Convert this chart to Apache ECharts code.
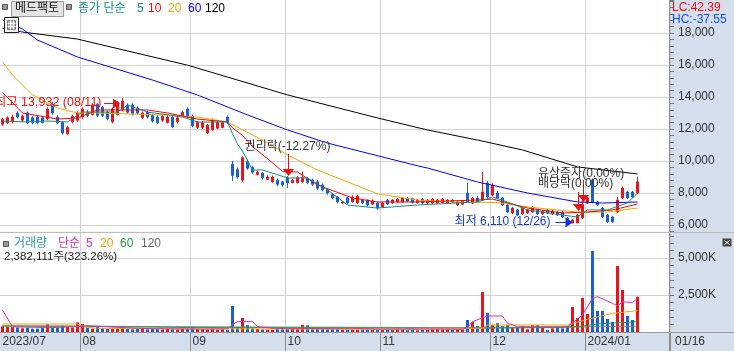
<!DOCTYPE html>
<html>
<head>
<meta charset="utf-8">
<script src="https://cdn.jsdelivr.net/npm/echarts@6/dist/echarts.min.js"></script>
<style>
html, body { margin: 0; padding: 0; background: #fff; }
#chart { width: 734px; height: 351px; }
</style>
</head>
<body>
<div id="chart"></div>
<script>
// month axis
var monthLabels = ['2023/07', '08', '09', '10', '11', '12', '2024/01'];
var monthDays = [16, 22, 19, 19, 22, 19, 11];
var emptySlots = 6;

// daily candles (KRW)
var openPrices = [12300,12400,12450,13000,12550,13000,12700,12750,12700,12650,13550,12750,12400,11700,12450,12550,
  12750,13050,12900,13550,13350,13050,12450,12900,13200,13500,13500,13300,12700,13050,12850,12750,12550,12400,12750,12450,12850,13250,
  12800,12100,12100,11750,11950,12050,12100,12750,9800,9450,8800,9950,9600,9150,9250,8850,8700,8800,8700,
  8950,8650,8650,8700,8900,8800,8700,8500,8200,7900,7750,7380,7700,7450,7380,7560,7560,7300,7370,
  7130,7560,7380,7440,7440,7680,7650,7400,7620,7380,7380,7380,7400,7380,7560,7250,7300,8000,7370,7680,7560,8620,
  7870,8000,7690,7250,6750,6940,6700,6750,6810,6940,6690,6940,6690,6810,6810,6440,6120,6130,6440,
  7370,8810,7440,7060,6620,6500,6810,7690,8060,8060,8000];
var closePrices = [12600,12700,12750,12750,12800,12400,12400,12400,12400,13250,13000,12400,11750,12100,12800,13000,
  13250,12850,13500,12850,12850,12650,13250,13650,13750,13050,12950,13000,13000,12750,12500,12400,12800,12750,12150,12700,13050,12750,
  12200,12400,12400,12250,12550,12400,12400,12400,9100,9000,10200,9550,9300,9300,8950,9000,9000,8550,8500,
  8650,8800,8950,8950,8650,8550,8300,8200,8000,7700,7450,7440,7380,7750,7800,7380,7250,7500,7060,
  7370,7310,7560,7620,7680,7500,7400,7560,7380,7560,7620,7560,7620,7560,7440,7440,7500,7440,7680,7440,8060,7750,
  8500,7690,7250,6810,7060,6620,7060,6940,7120,6690,6870,6750,6870,6620,6500,6190,6310,6620,7250,
  7690,7440,7250,6500,6190,6190,7560,8310,7690,7750,8700];
var lowPrices = [12200,12300,12350,12650,12450,12300,12300,12300,12350,12550,12900,12300,11650,11650,12350,12450,
  12650,12750,12850,12750,12750,12550,12350,12850,13100,12950,12850,12900,12650,12650,12400,12300,12450,12350,12050,12350,12750,12650,
  12100,12000,12000,11700,11900,12000,12050,12300,8750,8900,8700,9450,9200,9100,8850,8800,8650,8450,8400,
  8300,8600,8600,8650,8550,8450,8200,8100,7900,7600,7350,7300,7300,7400,7300,7300,7150,7250,6950,
  7080,7250,7330,7400,7400,7440,7350,7350,7330,7330,7330,7330,7350,7330,7380,7200,7250,7380,7320,7380,7500,7690,
  7800,7620,7190,6750,6690,6560,6650,6690,6750,6620,6620,6690,6620,6560,6440,6150,6110,6120,6380,
  7310,7400,7190,6440,6130,6150,6750,7620,7620,7690,7940];
var highPrices = [12700,12800,12900,13100,12900,13100,12800,12850,12800,13350,13700,12850,12450,12200,12900,13100,
  13350,13200,13600,13650,13450,13150,13350,13750,13932,13600,13600,13400,13100,13150,12950,12850,12900,12850,12800,12800,13150,13350,
  12900,12500,12500,12300,12650,12500,12500,12850,10000,9600,10300,10100,9700,9400,9300,9100,9100,8900,8750,
  9050,8900,9050,9350,9000,8900,8800,8600,8300,8000,7800,7500,7750,7850,7900,7650,7600,7600,7450,
  7450,7620,7620,7680,7750,7750,7700,7620,7680,7620,7680,7620,7680,7620,7620,7500,7560,8620,7750,7800,9310,8750,
  8620,8120,7750,7310,7120,7000,7120,7000,7190,7000,6940,7000,6940,6870,6870,6500,6380,6700,7560,
  7750,8900,7500,7120,6690,6560,7750,8400,8120,8120,9030];

// volume, thousand shares
var volumes = [380,360,330,300,250,280,230,230,270,520,300,280,420,330,300,650,
  540,300,230,330,250,200,230,250,300,200,180,200,200,180,200,190,170,200,180,170,200,190,
  330,200,180,170,200,160,180,150,1760,350,950,470,250,200,170,160,150,200,180,
  220,200,200,480,450,250,230,220,200,210,200,180,170,180,160,170,150,160,150,
  150,140,130,140,130,120,130,120,150,140,170,180,160,180,150,160,170,810,680,400,2700,1280,
  470,590,400,470,320,320,400,180,470,470,320,140,250,320,250,400,1690,950,2300,
  1220,5470,1420,1420,880,680,4460,2840,1080,810,2382];

// moving averages: [day index, value]
var ma5 = [[0,12500],[5,12440],[9,12500],[13,12440],[16,13060],[19,13060],[23,13060],[25,13500],[29,13060],[36,12750],
  [39,12440],[45,12440],[46,11700],[47,11060],[48,10620],[49,10050],[50,9430],[52,9440],[57,8940],[61,8940],[65,8190],
  [69,7250],[75,7060],[83,7250],[95,7440],[98,7750],[101,7440],[105,6940],[112,6620],[115,6500],[117,6940],[121,6940],
  [125,7380],[127,8000]];
var ma10 = [[0,14300],[4,13000],[11,12620],[15,12690],[19,13190],[29,13190],[33,13000],[39,12620],[45,12440],[46,12070],
  [48,11600],[50,10900],[53,10150],[56,9350],[59,9310],[63,8500],[70,7690],[75,7440],[83,7440],[95,7560],[98,7620],
  [105,7060],[112,6750],[117,6810],[122,6940],[127,7310]];
var ma20 = [[0,16190],[2,15380],[6,14130],[11,13310],[15,13000],[19,13000],[33,12870],[39,12750],[45,12440],[53,11130],
  [57,10380],[63,9440],[75,7950],[83,7560],[90,7440],[99,7400],[105,7130],[115,6810],[121,6810],[127,7060]];
var ma60 = [[0,18820],[4,18250],[7,17560],[15,16500],[30,15060],[39,14125],[49,12880],[57,11940],[65,11120],[83,9700],
  [85,9560],[95,8690],[105,8000],[115,7440],[120,7375],[127,7440]];
var ma120 = [[0,18300],[4,18060],[15,17620],[37,15990],[57,14130],[75,12690],[85,11940],[95,11310],[104,10690],
  [115,9630],[127,9190]];

var volMa5 = [[0,1480],[2,340],[10,300],[15,360],[17,430],[24,300],[30,220],[40,190],[45,220],[46,500],[47,700],[50,700],
  [51,360],[54,250],[57,230],[70,250],[75,200],[92,180],[93,315],[94,700],[97,1080],[100,1080],[101,590],[103,360],
  [113,360],[116,1150],[118,2280],[119,2390],[122,1940],[123,1760],[124,2050],[126,1980],[127,2280]];
var volMa20 = [[0,540],[15,540],[16,360],[19,250],[72,180],[82,180],[85,250],[96,250],[97,470],[113,470],[117,860],
  [122,1260],[127,1440]];
var volMa60 = [[0,400],[16,380],[38,300],[57,290],[70,280],[90,240],[97,260],[110,300],[116,400],[119,540],[127,690]];
var volMa120 = [[0,420],[46,340],[80,310],[110,300],[118,350],[127,400]];

var FONT = "'Liberation Sans', 'Noto Sans CJK KR', sans-serif";
var UP = '#e8141c', DOWN = '#1a5fd0';

var chart = echarts.init(document.getElementById('chart'));

var categories = [];
var monthStart = {};
monthDays.forEach(function (n, m) {
    monthStart[categories.length] = monthLabels[m];
    for (var d = 0; d < n; d++) categories.push(m + '-' + d);
});
for (var k = 0; k < emptySlots; k++) categories.push('e' + k);

function isMonthLine(i) { return i > 0 && monthStart[i] !== undefined; }

var candles = openPrices.map(function (o, i) {
    return [o, closePrices[i], lowPrices[i], highPrices[i]];
});
var volBars = volumes.map(function (v, i) {
    return { value: v, itemStyle: { color: closePrices[i] >= openPrices[i] ? UP : DOWN } };
});

function maSeries(data, color, axis) {
    return {
        type: 'line', data: data, xAxisIndex: axis, yAxisIndex: axis,
        symbol: 'none', lineStyle: { width: 1, color: color }, z: 3, silent: true
    };
}

var option = {
    animation: false,
    backgroundColor: '#d5dfec',
    grid: [
        { left: 0, width: 670, top: 0, height: 231.4, show: true, backgroundColor: '#fff', borderWidth: 0, outerBoundsMode: 'none' },
        { left: 0, width: 670, top: 231.4, height: 100.6, show: true, backgroundColor: '#fff', borderWidth: 0, outerBoundsMode: 'none' }
    ],
    xAxis: [
        {
            type: 'category', gridIndex: 0, data: categories, boundaryGap: true,
            axisLine: { show: false }, axisTick: { show: false }, axisLabel: { show: false },
            splitLine: { show: true, interval: isMonthLine, lineStyle: { color: '#d2d2d2' } }
        },
        {
            type: 'category', gridIndex: 1, data: categories, boundaryGap: true,
            axisLine: { show: false },
            axisTick: { show: true, interval: isMonthLine, length: 19, lineStyle: { color: '#8c8c8c' } },
            axisLabel: {
                show: true, margin: 4, align: 'left', color: '#333', fontSize: 12, fontFamily: FONT,
                interval: function (i) { return monthStart[i] !== undefined; },
                formatter: function (v, i) { return monthStart[i] || ''; }
            },
            splitLine: { show: true, interval: isMonthLine, lineStyle: { color: '#d2d2d2' } }
        }
    ],
    yAxis: [
        {
            type: 'value', gridIndex: 0, position: 'right', min: 5600, max: 20062.5, interval: 400,
            axisLine: { show: false },
            axisTick: { show: true, length: 4, lineStyle: { color: '#777' } },
            axisLabel: {
                margin: 8, color: '#333', fontSize: 12, fontFamily: FONT,
                formatter: function (v) { return (v % 2000 === 0 && v <= 18000) ? v.toLocaleString('en-US') : ''; }
            },
            splitLine: { show: false }
        },
        {
            type: 'value', gridIndex: 1, position: 'right', min: 0, max: 100.6 * 2500 / 37, interval: 500,
            axisLine: { show: false },
            axisTick: { show: true, length: 4, lineStyle: { color: '#777' } },
            axisLabel: {
                margin: 8, color: '#333', fontSize: 12, fontFamily: FONT,
                formatter: function (v) { return (v > 0 && v % 2500 === 0) ? v.toLocaleString('en-US') + 'K' : ''; }
            },
            splitLine: { show: false }
        }
    ],
    series: [
        {
            type: 'candlestick', xAxisIndex: 0, yAxisIndex: 0, data: candles, barWidth: 2,
            itemStyle: { color: UP, color0: DOWN, borderColor: UP, borderColor0: DOWN, borderWidth: 1 },
            silent: true
        },
        maSeries(ma120, '#000000', 0),
        maSeries(ma60, '#0000ff', 0),
        maSeries(ma20, '#f0a800', 0),
        maSeries(ma10, '#ff0000', 0),
        maSeries(ma5, '#0f8f86', 0),
        { type: 'bar', xAxisIndex: 1, yAxisIndex: 1, data: volBars, barWidth: 3, silent: true },
        maSeries(volMa120, '#808080', 1),
        maSeries(volMa60, '#1e9e46', 1),
        maSeries(volMa20, '#f0a800', 1),
        maSeries(volMa5, '#e02cc0', 1)
    ]
};
chart.setOption(option);

// overlay: grid lines, headers, annotations
function pt(i, p) { return chart.convertToPixel({ gridIndex: 0 }, [i, p]); }
function vy(v) { return chart.convertToPixel({ gridIndex: 1 }, [0, v])[1]; }

function txt(x, y, s, color, size, align) {
    return {
        type: 'text', x: x, y: y, z: 20, silent: true,
        style: { text: s, fill: color, font: (size || 12) + 'px ' + FONT,
                 textAlign: align || 'left', textVerticalAlign: 'middle', align: align || 'left', verticalAlign: 'middle' }
    };
}
function ln(x1, y1, x2, y2, color, z) {
    return { type: 'line', z: z || 20, silent: true, shape: { x1: x1, y1: y1, x2: x2, y2: y2 },
             style: { stroke: color, lineWidth: 1 } };
}
function box(x, y, w, h, fill, stroke) {
    return { type: 'rect', z: 20, silent: true, shape: { x: x, y: y, width: w, height: h },
             style: { fill: fill, stroke: stroke || null, lineWidth: 1 } };
}
function tri(points, color) {
    return { type: 'polygon', z: 20, silent: true, shape: { points: points }, style: { fill: color } };
}
function arrowDown(x, yTip, len, color) {
    return [ln(x, yTip - len, x, yTip - 6, color), tri([[x - 5.5, yTip - 7], [x + 5.5, yTip - 7], [x, yTip]], color)];
}
function arrowRight(xTip, y, len, color) {
    return [ln(xTip - len, y, xTip - 6, y, color), tri([[xTip - 7, y - 5], [xTip - 7, y + 5], [xTip, y]], color)];
}

var g = [];
// horizontal grid lines
[6000, 8000, 10000, 12000, 14000, 16000, 18000].forEach(function (p) {
    var y = Math.round(pt(0, p)[1]) + 0.5;
    g.push(ln(0, y, 670, y, '#d2d2d2', 1));
});
[2500, 5000].forEach(function (v) {
    var y = Math.round(vy(v)) + 0.5;
    g.push(ln(0, y, 670, y, '#d2d2d2', 1));
});
// frame lines
g.push(ln(669.5, 0, 669.5, 351, '#8c8c8c'));
g.push(ln(0, 232.5, 734, 232.5, '#bdbdbd'));
g.push(ln(0, 332.5, 734, 332.5, '#9a9a9a'));

// price header
g.push(box(2.5, 4.5, 5, 5, '#9a9a9a', '#555'));
g.push(box(11.5, 1.5, 52, 15, '#e4e4e4', '#9a9a9a'));
g.push(txt(15, 9, '메드팩토', '#111', 12));
g.push(box(66.5, 4.5, 5, 5, '#9a9a9a', '#555'));
g.push(txt(78, 9, '종가 단순', '#0f8f86', 12));
g.push(txt(137, 9, '5', '#0f8f86', 12));
g.push(txt(148, 9, '10', '#ff0000', 12));
g.push(txt(168, 9, '20', '#f0a800', 12));
g.push(txt(188, 9, '60', '#0000ff', 12));
g.push(txt(205, 9, '120', '#000', 12));
// small table icon
g.push(box(4.5, 17.5, 14, 15, '#f4f4f4', '#222'));
g.push(box(7.5, 20.5, 8, 9, '#b8b8b8', '#777'));
g.push(ln(7.5, 23.5, 15.5, 23.5, '#fff'));
g.push(ln(7.5, 26.5, 15.5, 26.5, '#fff'));
g.push(ln(10.5, 20.5, 10.5, 29.5, '#fff'));
g.push(ln(13.5, 20.5, 13.5, 29.5, '#fff'));

g.push(txt(672, 8, 'LC:42.39', '#e81010', 12));
g.push(txt(672, 20, 'HC:-37.55', '#1050e0', 12));

// volume header
g.push(box(3.5, 241.5, 5, 5, '#9a9a9a', '#555'));
g.push(txt(14, 244, '거래량', '#2e9c9c', 12));
g.push(txt(58, 244, '단순', '#e02cc0', 12));
g.push(txt(86, 244, '5', '#e02cc0', 12));
g.push(txt(100, 244, '20', '#f0a800', 12));
g.push(txt(120, 244, '60', '#1e9e46', 12));
g.push(txt(141, 244, '120', '#666', 12));
g.push(txt(4, 257, '2,382,111주(323.26%)', '#222', 11.5));
g.push(box(722.5, 238.5, 9, 8, '#444', null));
g.push(ln(724.5, 240.5, 729.5, 244.5, '#fff'));
g.push(ln(729.5, 240.5, 724.5, 244.5, '#fff'));

g.push(txt(675, 342, '01/16', '#333', 12));

// annotations anchored to data
var hi = pt(24, 13625);
g = g.concat(arrowRight(hi[0] - 2.5, Math.round(hi[1]) + 0.5, 16, '#e81010'));
g.push(txt(hi[0] - 21, hi[1], '최고 13,932 (08/11)', '#e81010', 12.5, 'right'));

var ex = pt(57, 9062);
g = g.concat(arrowDown(Math.round(ex[0]) + 0.5, ex[1], 22, '#e81010'));
g.push(txt(ex[0], ex[1] - 29, '권리락(-12.27%)', '#333', 12, 'center'));

var rs = pt(116, 7437);
g = g.concat(arrowDown(Math.round(rs[0]) + 0.5, rs[1], 22, '#e81010'));
g.push(txt(rs[0] - 44.5, rs[1] - 28, '유상증자(0.00%)', '#333', 12));

var dv = pt(115, 6875);
g = g.concat(arrowDown(Math.round(dv[0]) + 0.5, dv[1], 19, '#e81010'));
g.push(txt(dv[0] - 39.5, dv[1] - 27, '배당락(0.00%)', '#333', 12));

var lo = pt(114, 6187);
g = g.concat(arrowRight(lo[0], Math.round(lo[1]) + 0.5, 17, '#1030e0'));
g.push(txt(lo[0] - 22, lo[1], '최저 6,110 (12/26)', '#1a3ad0', 12, 'right'));

chart.setOption({ graphic: g });
</script>
</body>
</html>
